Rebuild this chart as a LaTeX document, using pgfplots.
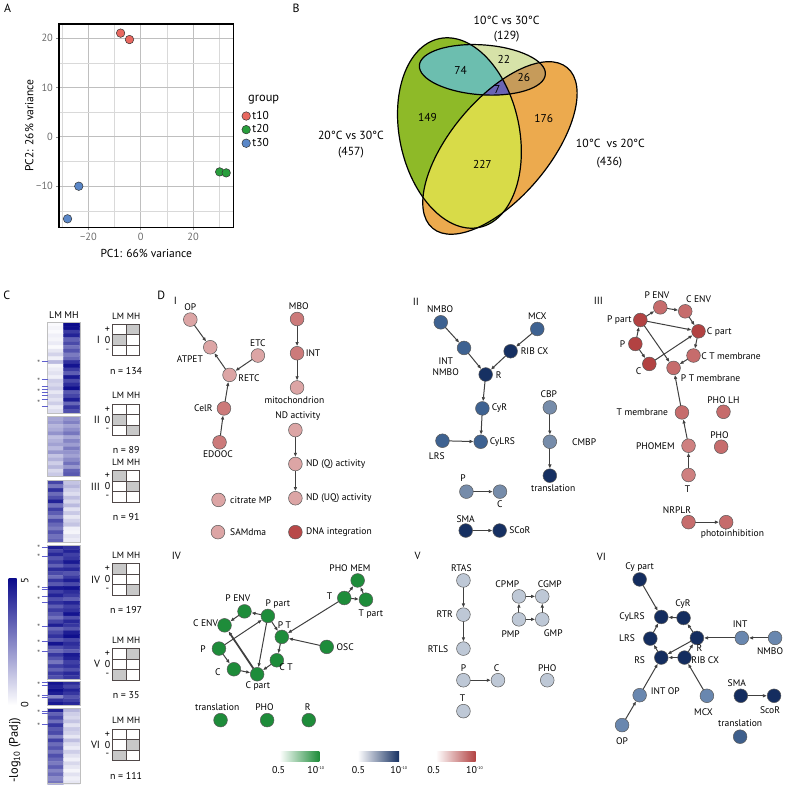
\documentclass[border=0pt]{standalone}
\usepackage{pgfplots}
\pgfplotsset{compat=1.18}
\usepackage{fontspec}
\setmainfont{PT Sans}
\usetikzlibrary{arrows.meta}
\newcommand{\fsz}[1]{\fontsize{#1}{#1}\selectfont}
% colours
\definecolor{pcred}{RGB}{232,104,96}
\definecolor{pcgreen}{RGB}{40,158,60}
\definecolor{pcblue}{RGB}{90,135,200}
\definecolor{vgreen}{RGB}{142,186,40}
\definecolor{vorange}{RGB}{236,170,78}
\definecolor{vyellow}{RGB}{216,219,72}
\definecolor{vlight}{RGB}{214,226,168}
\definecolor{vteal}{RGB}{108,190,175}
\definecolor{vbrown}{RGB}{198,155,90}
\definecolor{vpurple}{RGB}{105,100,180}
\definecolor{hmdark}{RGB}{12,12,140}
\definecolor{hmline}{RGB}{95,95,205}
\definecolor{cellgray}{RGB}{200,200,200}
\definecolor{gridcol}{RGB}{80,72,72}
\definecolor{cIa}{RGB}{220,165,165}
\definecolor{cIb}{RGB}{204,122,122}
\definecolor{cIc}{RGB}{184,72,72}
\definecolor{cIIa}{RGB}{22,48,98}
\definecolor{cIIb}{RGB}{62,98,145}
\definecolor{cIIc}{RGB}{118,140,170}
\definecolor{cIIIa}{RGB}{178,66,66}
\definecolor{cIIIb}{RGB}{198,108,108}
\definecolor{cIIIc}{RGB}{206,128,128}
\definecolor{cIV}{RGB}{30,140,58}
\definecolor{cV}{RGB}{190,200,214}
\definecolor{cVIa}{RGB}{20,45,95}
\definecolor{cVIb}{RGB}{105,135,175}
\definecolor{cVIc}{RGB}{62,95,140}
\tikzset{edge/.style={draw=black!75, line width=1bp, -{Latex[length=4.2bp,width=3.6bp]}, shorten >=7bp, shorten <=6.5bp},
  lab/.style={font=\fsz{9.6}, inner sep=0.5bp}}
\pgfplotsset{nd/.style={only marks, mark=*, mark size=6.9, mark options={fill=#1, draw=black!65, line width=0.5}},
  dotlegend/.style={legend image code/.code={\draw[##1] plot coordinates {(0bp,0bp)};}}}
\newcommand{\E}[4]{\addplot[edge] coordinates {(#1,#2) (#3,#4)};}
\newcommand{\gridtab}[4]{%
  \foreach \c/\r in {#3} {\fill[cellgray] ({111+13.65*\c},{#1+10.5*\r}) rectangle ++(13.65,10.5);}
  \draw[gridcol, line width=0.9] (111,#1) rectangle (138.3,#1+31.5);
  \draw[gridcol, line width=0.9] (124.65,#1) -- (124.65,#1+31.5);
  \draw[gridcol, line width=0.9] (111,#1+10.5) -- (138.3,#1+10.5);
  \draw[gridcol, line width=0.9] (111,#1+21) -- (138.3,#1+21);
  \node[font=\fsz{9.2}, inner sep=0] at (116.6,#1-8.5) {LM};
  \node[font=\fsz{9.2}, inner sep=0] at (132.2,#1-8.5) {MH};
  \node[font=\fsz{10}] at (106,#1+5.25) {+};
  \node[font=\fsz{10}] at (106,#1+15.75) {0};
  \node[font=\fsz{10}] at (106,#1+26.25) {-};
  \node[font=\fsz{10.5}, anchor=east] at (102,#1+15.75) {#2};
  \node[font=\fsz{10}] at (124.7,#1+46.5) {n = #4};
}
\begin{document}
\begin{tikzpicture}
%================ main canvas axis (pixel coordinates) =================
\begin{axis}[name=main, at={(0,0)}, anchor=south west, scale only axis,
  width=787bp, height=786bp, xmin=0, xmax=787, ymin=0, ymax=786,
  y dir=reverse, hide axis, clip=false,
  colormap={wb}{rgb255=(255,255,255) rgb255=(12,12,140)},
  point meta min=0, point meta max=5]
% ---------- heatmap (panel C) ----------
\addplot[matrix plot*, mesh/cols=2, point meta=explicit] coordinates {
(54,325.2)[0.1] (70,325.2)[5.0] (54,329.0)[0.2] (70,329.0)[4.9]
(54,332.8)[0.1] (70,332.8)[4.0] (54,336.5)[0.3] (70,336.5)[4.5]
(54,340.3)[0.2] (70,340.3)[3.2] (54,344.1)[0.4] (70,344.1)[3.7]
(54,347.9)[0.1] (70,347.9)[2.9] (54,351.7)[0.5] (70,351.7)[3.5]
(54,355.4)[0.9] (70,355.4)[2.7] (54,359.2)[0.3] (70,359.2)[3.1]
(54,363.0)[1.4] (70,363.0)[4.2] (54,366.8)[0.2] (70,366.8)[4.8]
(54,370.6)[0.4] (70,370.6)[4.0] (54,374.3)[0.6] (70,374.3)[3.3]
(54,378.1)[0.3] (70,378.1)[4.7] (54,381.9)[1.0] (70,381.9)[3.7]
(54,385.7)[0.8] (70,385.7)[4.3] (54,389.5)[1.1] (70,389.5)[4.9]
(54,393.2)[0.5] (70,393.2)[3.4] (54,397.0)[0.9] (70,397.0)[3.8]
(54,400.8)[0.6] (70,400.8)[4.6] (54,404.6)[1.0] (70,404.6)[3.1]
(54,408.4)[0.4] (70,408.4)[4.1] (54,412.1)[0.7] (70,412.1)[3.6]
};
\addplot[matrix plot*, mesh/cols=2, point meta=explicit] coordinates {
(54,419.6)[1.8] (70,419.6)[2.2] (54,423.3)[2.0] (70,423.3)[2.6]
(54,427.1)[1.5] (70,427.1)[1.9] (54,430.8)[1.7] (70,430.8)[2.3]
(54,434.6)[2.2] (70,434.6)[2.8] (54,438.3)[1.3] (70,438.3)[1.8]
(54,442.1)[1.6] (70,442.1)[2.5] (54,445.8)[1.9] (70,445.8)[2.0]
(54,449.6)[1.4] (70,449.6)[2.7] (54,453.3)[2.1] (70,453.3)[2.2]
(54,457.1)[1.2] (70,457.1)[1.9] (54,460.8)[1.6] (70,460.8)[2.4]
(54,464.6)[1.0] (70,464.6)[2.9] (54,468.3)[1.5] (70,468.3)[2.1]
(54,472.1)[0.8] (70,472.1)[3.2] (54,475.8)[1.1] (70,475.8)[3.4]
};
\addplot[matrix plot*, mesh/cols=2, point meta=explicit] coordinates {
(54,483.6)[3.8] (70,483.6)[1.2] (54,487.5)[2.8] (70,487.5)[1.5]
(54,491.3)[4.2] (70,491.3)[1.0] (54,495.2)[3.0] (70,495.2)[0.7]
(54,499.0)[3.6] (70,499.0)[1.3] (54,502.9)[4.5] (70,502.9)[0.8]
(54,506.7)[2.9] (70,506.7)[1.4] (54,510.6)[3.9] (70,510.6)[0.6]
(54,514.4)[3.3] (70,514.4)[1.1] (54,518.3)[2.6] (70,518.3)[0.5]
(54,522.1)[3.7] (70,522.1)[0.9] (54,526.0)[3.1] (70,526.0)[1.2]
(54,529.8)[2.7] (70,529.8)[0.3] (54,533.7)[3.5] (70,533.7)[0.2]
(54,537.5)[2.9] (70,537.5)[0.6] (54,541.4)[3.2] (70,541.4)[0.4]
};
\addplot[matrix plot*, mesh/cols=2, point meta=explicit] coordinates {
(54,548.6)[4.6] (70,548.6)[4.2] (54,552.3)[3.8] (70,552.3)[4.5]
(54,556.0)[4.4] (70,556.0)[3.9] (54,559.8)[3.5] (70,559.8)[4.1]
(54,563.5)[4.0] (70,563.5)[4.7] (54,567.2)[3.2] (70,567.2)[3.8]
(54,570.9)[4.3] (70,570.9)[4.4] (54,574.6)[3.7] (70,574.6)[3.5]
(54,578.4)[3.0] (70,578.4)[4.0] (54,582.1)[4.1] (70,582.1)[4.6]
(54,585.8)[3.4] (70,585.8)[3.7] (54,589.5)[4.7] (70,589.5)[4.8]
(54,593.2)[3.9] (70,593.2)[4.3] (54,597.0)[4.5] (70,597.0)[4.0]
(54,600.7)[3.6] (70,600.7)[3.3] (54,604.4)[4.2] (70,604.4)[4.5]
(54,608.1)[3.3] (70,608.1)[3.9] (54,611.8)[4.0] (70,611.8)[4.2]
(54,615.6)[3.5] (70,615.6)[4.8] (54,619.3)[2.9] (70,619.3)[3.6]
(54,623.0)[3.8] (70,623.0)[4.4] (54,626.7)[4.6] (70,626.7)[4.1]
(54,630.4)[3.1] (70,630.4)[3.5] (54,634.2)[3.7] (70,634.2)[4.6]
(54,637.9)[4.2] (70,637.9)[4.9] (54,641.6)[3.4] (70,641.6)[3.8]
(54,645.3)[4.8] (70,645.3)[4.3] (54,649.0)[3.6] (70,649.0)[4.0]
(54,652.8)[3.0] (70,652.8)[3.4] (54,656.5)[4.1] (70,656.5)[4.7]
(54,660.2)[3.5] (70,660.2)[4.5] (54,663.9)[2.8] (70,663.9)[3.9]
(54,667.6)[3.9] (70,667.6)[4.2] (54,671.4)[3.2] (70,671.4)[3.6]
(54,675.1)[4.0] (70,675.1)[4.4] (54,678.8)[3.6] (70,678.8)[4.1]
};
\addplot[matrix plot*, mesh/cols=2, point meta=explicit] coordinates {
(54,684.5)[4.8] (70,684.5)[4.3] (54,688.0)[4.5] (70,688.0)[3.8]
(54,691.5)[4.9] (70,691.5)[4.5] (54,695.0)[4.6] (70,695.0)[4.1]
(54,698.5)[2.5] (70,698.5)[3.5] (54,702.0)[4.2] (70,702.0)[3.9]
(54,705.5)[4.7] (70,705.5)[4.4]
};
\addplot[matrix plot*, mesh/cols=2, point meta=explicit] coordinates {
(54,711.9)[4.5] (70,711.9)[1.5] (54,715.7)[3.2] (70,715.7)[1.0]
(54,719.5)[3.8] (70,719.5)[0.8] (54,723.3)[2.9] (70,723.3)[1.2]
(54,727.1)[4.1] (70,727.1)[0.6] (54,730.9)[3.4] (70,730.9)[1.1]
(54,734.7)[3.7] (70,734.7)[0.9] (54,738.5)[2.6] (70,738.5)[0.5]
(54,742.3)[3.9] (70,742.3)[1.3] (54,746.1)[3.0] (70,746.1)[0.7]
(54,749.9)[3.5] (70,749.9)[0.4] (54,753.7)[2.8] (70,753.7)[1.0]
(54,757.5)[3.6] (70,757.5)[0.6] (54,761.3)[3.1] (70,761.3)[0.3]
(54,765.1)[2.7] (70,765.1)[0.8] (54,768.9)[3.3] (70,768.9)[0.5]
(54,772.7)[2.5] (70,772.7)[0.2] (54,776.5)[3.0] (70,776.5)[0.6]
(54,780.3)[2.4] (70,780.3)[0.3] (54,784.1)[2.8] (70,784.1)[0.5]
};
% ---------- network I ----------
\E{189}{320.3}{209}{348}
\E{228.3}{375.7}{209}{348}
\E{256.7}{356.3}{228.3}{375.7}
\E{222.7}{409.3}{228.3}{375.7}
\E{218.3}{443.3}{222.7}{409.3}
\E{296}{319.7}{296}{354}
\E{296}{354}{296}{388.3}
\E{294.3}{431}{294.3}{465}
\E{294.3}{465}{294.3}{499.3}
\addplot[nd=cIa] coordinates {(189,320.3) (209,348) (256.7,356.3) (228.3,375.7) (296,388.3) (294.3,431) (294.3,465) (294.3,499.3) (217.3,501) (216.7,533.3)};
\addplot[nd=cIb] coordinates {(296,319.7) (296,354) (222.7,409.3) (218.3,443.3)};
\addplot[nd=cIc] coordinates {(294.3,533.3)};
% ---------- network II ----------
\E{440}{323}{463.3}{348.7}
\E{463.3}{348.7}{485}{375.3}
\E{536.7}{329.7}{510}{352}
\E{510}{352}{485}{375.3}
\E{485}{375.3}{481.7}{409.3}
\E{481.7}{409.3}{480}{442.7}
\E{441.7}{441.7}{480}{442.7}
\E{549.3}{408.3}{549.3}{442.7}
\E{549.3}{442.7}{549.3}{476.7}
\E{465.7}{492.7}{499.3}{492.7}
\E{465}{531.7}{499}{531.7}
\addplot[nd=cIIa] coordinates {(510,352) (485,375.3) (549.3,476.7) (465,531.7) (499,531.7)};
\addplot[nd=cIIb] coordinates {(440,323) (463.3,348.7) (536.7,329.7) (481.7,409.3) (480,442.7) (441.7,441.7)};
\addplot[nd=cIIc] coordinates {(549.3,408.3) (549.3,442.7) (465.7,492.7) (499.3,492.7)};
% ---------- network III ----------
\E{640}{320.7}{660}{308}
\E{660}{308}{685}{312}
\E{685}{312}{698.3}{332}
\E{640}{320.7}{698.3}{332}
\E{635}{344.7}{640}{320.7}
\E{635}{344.7}{649}{364.7}
\E{649}{364.7}{698.3}{332}
\E{640}{320.7}{673.3}{368.7}
\E{698.3}{332}{693.3}{356.3}
\E{693.3}{356.3}{673.3}{368.7}
\E{681.7}{413.3}{673.3}{368.7}
\E{688.3}{446.7}{681.7}{413.3}
\E{688.3}{476}{688.3}{446.7}
\E{688.3}{523.3}{726}{523.3}
\addplot[nd=cIIIa] coordinates {(640,320.7) (698.3,332) (635,344.7) (649,364.7)};
\addplot[nd=cIIIb] coordinates {(660,308) (685,312) (693.3,356.3) (673.3,368.7) (681.7,413.3) (723.3,412.7) (721,447.7) (688.3,523.3) (726,523.3)};
\addplot[nd=cIIIc] coordinates {(688.3,446.7) (688.3,476)};
% ---------- network IV ----------
\E{343.3}{599.3}{356.7}{581.7}
\E{343.3}{599.3}{365}{601}
\E{365}{601}{356.7}{581.7}
\E{343.3}{599.3}{280.7}{638.3}
\E{325.7}{648.3}{280.7}{638.3}
\E{266.7}{617.3}{243.3}{612.7}
\E{243.3}{612.7}{223.3}{626.7}
\addplot[edge, line width=1.8bp] coordinates {(256,675.7) (223.3,626.7)};
\E{217.7}{650}{266.7}{617.3}
\E{266.7}{617.3}{256}{675.7}
\E{266.7}{617.3}{280.7}{638.3}
\E{280.7}{638.3}{275.7}{661.7}
\E{275.7}{661.7}{256}{675.7}
\E{217.7}{650}{232.7}{670.7}
\E{232.7}{670.7}{256}{675.7}
\addplot[nd=cIV] coordinates {(356.7,581.7) (343.3,599.3) (365,601) (243.3,612.7) (266.7,617.3) (223.3,626.7) (280.7,638.3) (325.7,648.3) (217.7,650) (275.7,661.7) (232.7,670.7) (256,675.7) (219.3,721.7) (266,721.7) (307.7,721.7)};
% ---------- network V ----------
\E{462.7}{581.7}{462.7}{616}
\E{462.7}{616}{462.7}{650}
\E{518.3}{597.7}{541.7}{597.7}
\E{518.3}{620.7}{518.3}{597.7}
\E{518.3}{620.7}{541.7}{620.7}
\E{541.7}{620.7}{541.7}{597.7}
\E{462.7}{681.7}{497.3}{681.7}
\addplot[nd=cV] coordinates {(462.7,581.7) (462.7,616) (462.7,650) (518.3,597.7) (541.7,597.7) (518.3,620.7) (541.7,620.7) (462.7,681.7) (497.3,681.7) (546.7,681.7) (462.7,712.7)};
% ---------- network VI ----------
\E{639.3}{580.7}{661}{618.3}
\E{683.3}{619.3}{661}{618.3}
\E{650}{640}{661}{618.3}
\E{696.7}{639.3}{683.3}{619.3}
\E{741.7}{639.3}{696.7}{639.3}
\E{775}{639.3}{741.7}{639.3}
\E{696.7}{639.3}{661}{659}
\E{684.3}{659}{661}{659}
\E{684.3}{659}{696.7}{639.3}
\E{661}{659}{650}{640}
\E{706.7}{697.3}{684.3}{659}
\E{639.3}{696.7}{661}{659}
\E{621.7}{726.7}{639.3}{696.7}
\E{740.7}{697.3}{774}{697.3}
\addplot[nd=cVIa] coordinates {(639.3,580.7) (683.3,619.3) (661,618.3) (650,640) (696.7,639.3) (661,659) (684.3,659) (740.7,697.3) (774,697.3)};
\addplot[nd=cVIb] coordinates {(741.7,639.3) (775,639.3) (639.3,696.7) (706.7,697.3) (621.7,726.7)};
\addplot[nd=cVIc] coordinates {(740,738.3)};
\end{axis}
%================ panel A: PCA =================
\begin{axis}[at={(57.3bp,558.3bp)}, anchor=south west, scale only axis,
  width=175bp, height=203.7bp,
  xmin=-31.3, xmax=35.5, ymin=-18.3, ymax=22.86,
  xtick={-20,0,20}, xticklabels={−20,0,20},
  ytick={-10,0,10,20}, yticklabels={−10,0,10,20},
  minor xtick={-30,-10,10,30}, minor ytick={-15,-5,5,15},
  grid=both, major grid style={draw=black!25, line width=0.7bp},
  minor grid style={draw=black!15, line width=0.45bp},
  axis line style={line width=1.2bp},
  xtick pos=bottom, ytick pos=left, tick align=outside,
  major tick length=2.5bp, minor tick length=0bp,
  tick style={black!45, line width=0.5bp},
  ticklabel style={text=black!58, font=\fsz{10.5}},
  xlabel={PC1: 66\% variance}, ylabel={PC2: 26\% variance},
  label style={font=\fsz{11.6}},
  x label style={at={(axis description cs:0.5,-0.129)}, anchor=center},
  y label style={at={(axis description cs:-0.169,0.5)}, anchor=center},
  legend style={at={(axis description cs:1.047,0.48)}, anchor=west, draw=none, fill=none,
    font=\fsz{11.5}, inner xsep=0bp, row sep=0bp},
  legend cell align=left]
\addplot[only marks, mark=*, mark size=4.3, mark options={fill=pcred, draw=black!80, line width=0.5}, dotlegend] coordinates {(-7.7,21.0) (-4.3,19.7)};
\addlegendentry{t10}
\addplot[only marks, mark=*, mark size=4.3, mark options={fill=pcgreen, draw=black!80, line width=0.5}, dotlegend] coordinates {(30.2,-7.1) (32.7,-7.3)};
\addlegendentry{t20}
\addplot[only marks, mark=*, mark size=4.3, mark options={fill=pcblue, draw=black!80, line width=0.5}, dotlegend] coordinates {(-23.7,-10.0) (-28.0,-16.6)};
\addlegendentry{t30}
\end{axis}
%================ diagram parts in pixel coordinates =================
\begin{scope}[shift={(0bp,786bp)}, x=1bp, y=-1bp]
\path (0,0) rectangle (787,786);
% panel letters
\node[font=\fsz{12}] at (6,8) {A};
\node[font=\fsz{12}] at (295,8) {B};
\node[font=\fsz{12}] at (5,296) {C};
\node[font=\fsz{12}] at (160,296) {D};
\node[font=\fsz{12.5}, anchor=west] at (243.5,100) {group};
% ---------- Venn (panel B) ----------
\fill[vorange, rotate around={50:(499.3,148.3)}] (499.3,148.3) ellipse [x radius=105, y radius=49.3];
\fill[vgreen, rotate around={12:(458.7,133.3)}] (458.7,133.3) ellipse [x radius=60, y radius=96.7];
\begin{scope}
\clip[rotate around={12:(458.7,133.3)}] (458.7,133.3) ellipse [x radius=60, y radius=96.7];
\fill[vyellow, rotate around={50:(499.3,148.3)}] (499.3,148.3) ellipse [x radius=105, y radius=49.3];
\end{scope}
\fill[vlight, rotate around={-4:(481.7,70)}] (481.7,70) ellipse [x radius=63.3, y radius=25];
\begin{scope}
\clip[rotate around={-4:(481.7,70)}] (481.7,70) ellipse [x radius=63.3, y radius=25];
\fill[vteal, rotate around={12:(458.7,133.3)}] (458.7,133.3) ellipse [x radius=60, y radius=96.7];
\fill[vbrown, rotate around={50:(499.3,148.3)}] (499.3,148.3) ellipse [x radius=105, y radius=49.3];
\clip[rotate around={12:(458.7,133.3)}] (458.7,133.3) ellipse [x radius=60, y radius=96.7];
\fill[vpurple, rotate around={50:(499.3,148.3)}] (499.3,148.3) ellipse [x radius=105, y radius=49.3];
\end{scope}
\draw[line width=1.2bp, rotate around={50:(499.3,148.3)}] (499.3,148.3) ellipse [x radius=105, y radius=49.3];
\draw[line width=1.2bp, rotate around={12:(458.7,133.3)}] (458.7,133.3) ellipse [x radius=60, y radius=96.7];
\draw[line width=1.2bp, rotate around={-4:(481.7,70)}] (481.7,70) ellipse [x radius=63.3, y radius=25];
\node[font=\fsz{11.5}] at (460,71) {74};
\node[font=\fsz{11.5}] at (503.3,60) {22};
\node[font=\fsz{11.5}] at (523.3,77.3) {26};
\node[font=\fsz{11.5}] at (496.7,90) {7};
\node[font=\fsz{11.5}] at (426.7,118) {149};
\node[font=\fsz{11.5}] at (481.7,165) {227};
\node[font=\fsz{11.5}] at (543.3,118.3) {176};
\node[font=\fsz{11.8}] at (506,20) {10°C vs 30°C};
\node[font=\fsz{11.8}] at (506,37) {(129)};
\node[font=\fsz{11.8}] at (350,136) {20°C vs 30°C};
\node[font=\fsz{11.8}] at (350,153) {(457)};
\node[font=\fsz{11.8}, anchor=west] at (572,144) {10°C \ vs 20°C};
\node[font=\fsz{11.8}] at (609,163) {(436)};
% ---------- heatmap decorations (panel C) ----------
\foreach \a/\b in {323.3/414, 417.7/477.7, 481.7/543.3, 546.7/680.7, 682.7/707.3, 710/785.5}
  \draw[black!25, line width=0.6] (46,\a) rectangle (78.3,\b);
\node[font=\fsz{9.8}] at (54,316) {LM};
\node[font=\fsz{9.8}] at (70,316) {MH};
\foreach \y in {362.3,380.7,387.3,390,393.3,396,400,407.7,548.3,557.3,588.3,591,597.3,603.3,627.7,643.3,653.3,684,687.3,696.7,699.3,712.7,715,726}
  \draw[hmline, line width=0.8] (40,\y) -- (46,\y);
\foreach \y in {362.3,380.7,391.5,403,548.3,557.3,589.5,600.3,627.7,643.3,653.3,685.5,698,713.8,726}
  \node[font=\fsz{9}, text=black!60, inner sep=0, anchor=base] at (37,\y+4.6) {*};
\shade[top color=hmdark, bottom color=white] (7,580) rectangle (15,706.7);
\node[font=\fsz{10.5}, rotate=90] at (23,582) {5};
\node[font=\fsz{10.5}, rotate=90] at (23,706) {0};
\node[font=\fsz{12.5}, rotate=90] at (13,752) {-log\textsubscript{10} (Padj)};
\gridtab{325}{I}{1/0,0/1}{134}
\gridtab{405}{II}{0/1,1/2}{89}
\gridtab{471.7}{III}{0/0,1/1}{91}
\gridtab{565}{IV}{0/0,1/2}{197}
\gridtab{650}{V}{1/0,0/2}{35}
\gridtab{730.7}{VI}{1/1,0/2}{111}
% ---------- network roman labels ----------
\node[font=\fsz{10.5}] at (174,302) {I};
\node[font=\fsz{10.5}] at (415,303) {II};
\node[font=\fsz{10.5}] at (598,302) {III};
\node[font=\fsz{10.5}] at (175,557.3) {IV};
\node[font=\fsz{10.5}] at (416.7,557.3) {V};
\node[font=\fsz{10.5}] at (601,558) {VI};
% ---------- network I labels ----------
\node[lab] at (189,307.5) {OP};
\node[lab] at (188.5,359.5) {ATPET};
\node[lab] at (256.7,344) {ETC};
\node[lab, anchor=west] at (236.5,378.7) {RETC};
\node[lab, anchor=east] at (212,409.5) {CelR};
\node[lab] at (216.7,455) {EDOOC};
\node[lab] at (297.7,307) {MBO};
\node[lab, anchor=west] at (304,354) {INT};
\node[lab] at (293.3,401) {mitochondrion};
\node[lab] at (296.7,417.3) {ND activity};
\node[lab, anchor=west] at (304.3,465) {ND (Q) activity};
\node[lab, anchor=west] at (304.3,499.3) {ND (UQ) activity};
\node[lab, anchor=west] at (228.3,501) {citrate MP};
\node[lab, anchor=west] at (228.3,533.3) {SAMdma};
\node[lab, anchor=west] at (304.3,533.3) {DNA integration};
% ---------- network II labels ----------
\node[lab] at (439.3,309.7) {NMBO};
\node[lab, align=center] at (445,367.3) {INT\\[1.5bp]NMBO};
\node[lab] at (536.7,317.3) {MCX};
\node[lab, anchor=west] at (519.5,352) {RIB CX};
\node[lab, anchor=west] at (494.5,376) {R};
\node[lab, anchor=west] at (490.5,409.3) {CyR};
\node[lab, anchor=west] at (488.5,442.7) {CyLRS};
\node[lab] at (436,456.7) {LRS};
\node[lab] at (548.3,395) {CBP};
\node[lab, anchor=west] at (571,442.7) {CMBP};
\node[lab] at (552.7,489.5) {translation};
\node[lab] at (462.3,479.3) {P};
\node[lab] at (499.3,505) {C};
\node[lab] at (465,520) {SMA};
\node[lab, anchor=west] at (508,531.7) {SCoR};
% ---------- network III labels ----------
\node[lab] at (656.7,296.3) {P ENV};
\node[lab] at (698.3,300.3) {C ENV};
\node[lab, anchor=east] at (632,320.7) {P part};
\node[lab, anchor=west] at (706,333) {C part};
\node[lab, anchor=east] at (625.5,344.7) {P};
\node[lab] at (638.3,372) {C};
\node[lab, anchor=west] at (700.5,357) {C T membrane};
\node[lab, anchor=west] at (680,378.7) {P T membrane};
\node[lab, anchor=east] at (668.5,413) {T membrane};
\node[lab] at (723.3,400.7) {PHO LH};
\node[lab, anchor=east] at (675,446.7) {PHOMEM};
\node[lab] at (719.3,435.7) {PHO};
\node[lab] at (687.3,490.7) {T};
\node[lab] at (676.7,511) {NRPLR};
\node[lab] at (732.3,535) {photoinhibition};
% ---------- network IV labels ----------
\node[lab] at (349,569.3) {PHO MEM};
\node[lab] at (328.5,597.5) {T};
\node[lab] at (370,615) {T part};
\node[lab] at (236.7,599.3) {P ENV};
\node[lab] at (276.7,605) {P part};
\node[lab, anchor=east] at (217.5,625) {C ENV};
\node[lab] at (283.3,626.7) {P T};
\node[lab, anchor=west] at (335,648.3) {OSC};
\node[lab] at (201.7,650.7) {P};
\node[lab] at (285,668.3) {C T};
\node[lab] at (216.7,673.3) {C};
\node[lab] at (256.7,687.3) {C part};
\node[lab] at (216,708.3) {translation};
\node[lab] at (263.3,708.3) {PHO};
\node[lab] at (306.7,708.3) {R};
% ---------- network V labels ----------
\node[lab] at (460.7,569.3) {RTAS};
\node[lab] at (444,615) {RTR};
\node[lab] at (437.3,650.7) {RTLS};
\node[lab] at (506.7,585) {CPMP};
\node[lab] at (549.3,585) {CGMP};
\node[lab] at (510,636) {PMP};
\node[lab] at (552.7,635) {GMP};
\node[lab] at (462.7,669.3) {P};
\node[lab] at (496,669.3) {C};
\node[lab] at (546.7,669.3) {PHO};
\node[lab] at (461.7,700) {T};
% ---------- network VI labels ----------
\node[lab] at (639.3,568.3) {Cy part};
\node[lab] at (682.7,605) {CyR};
\node[lab] at (631.7,618.3) {CyLRS};
\node[lab] at (626.7,640) {LRS};
\node[lab] at (699.3,649.3) {R};
\node[lab] at (740,626) {INT};
\node[lab] at (770,652.3) {NMBO};
\node[lab] at (639.3,661.7) {RS};
\node[lab] at (705,661.7) {RIB CX};
\node[lab] at (665,692.7) {INT OP};
\node[lab] at (703.3,714) {MCX};
\node[lab] at (736.7,685) {SMA};
\node[lab] at (770,711.7) {ScoR};
\node[lab] at (740,725) {translation};
\node[lab] at (621.7,742.7) {OP};
% ---------- colour keys (panel D) ----------
\shade[left color=white, right color=cIV] (278.3,752.7) rectangle (318.3,763.3);
\shade[left color=white, right color=cIIa] (356.7,752.7) rectangle (398.3,763.3);
\shade[left color=white, right color=cIIIa] (435,752.7) rectangle (475,763.3);
\node[font=\fsz{10}, inner sep=0.5bp] at (277.5,772) {0.5};
\node[font=\fsz{10}, inner sep=0.5bp] at (311.7,772) {10\rlap{\raisebox{4bp}{\fsz{4}-10}}};
\node[font=\fsz{10}, inner sep=0.5bp] at (357.5,772) {0.5};
\node[font=\fsz{10}, inner sep=0.5bp] at (395,772) {10\rlap{\raisebox{4bp}{\fsz{4}-10}}};
\node[font=\fsz{10}, inner sep=0.5bp] at (433,772) {0.5};
\node[font=\fsz{10}, inner sep=0.5bp] at (470.8,772) {10\rlap{\raisebox{4bp}{\fsz{4}-10}}};
\end{scope}
\end{tikzpicture}
\end{document}
